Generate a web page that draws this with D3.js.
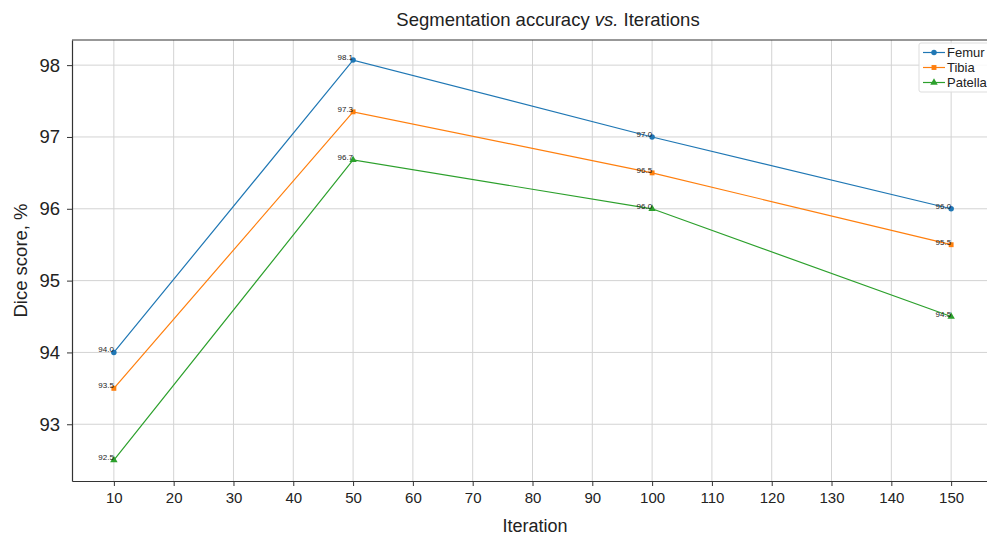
<!DOCTYPE html>
<html lang="en">
<head>
<meta charset="UTF-8">
<title>Segmentation accuracy vs. Iterations</title>
<script src="https://d3js.org/d3.v7.min.js"></script>
<style>
  body { margin: 0; background: #fff; }
  svg { font-family: "Liberation Sans", Arial, sans-serif; }
</style>
</head>
<body>
<script>
// Data
const iterations = [10, 50, 100, 150];
const femur   = [94.0, 98.07, 97.0, 96.0];
const tibia   = [93.5, 97.35, 96.5, 95.5];
const patella = [92.5, 96.68, 96.0, 94.5];
const seriesNames = ["Femur", "Tibia", "Patella"];
const xTicks = d3.range(10, 151, 10);
const yTicks = [93, 94, 95, 96, 97, 98];

const width = 987, height = 535;
const margin = { top: 40, right: -6, bottom: 54, left: 72 };

const svg = d3.select("body").append("svg")
    .attr("width", width)
    .attr("height", height);

const x = d3.scaleLinear().domain([3, 157]).range([margin.left, width - margin.right]);
const y = d3.scaleLinear().domain([92.21, 98.35]).range([height - margin.bottom, margin.top]);

const series = [
    { name: seriesNames[0], values: femur,   color: "#1f77b4", symbol: d3.symbolCircle,   size: 24 },
    { name: seriesNames[1], values: tibia,   color: "#ff7f0e", symbol: d3.symbolSquare,   size: 24 },
    { name: seriesNames[2], values: patella, color: "#2ca02c", symbol: d3.symbolTriangle, size: 24 }
];

// Grid
const grid = svg.append("g");
grid.selectAll(".vg").data(xTicks).enter().append("line")
    .attr("x1", d => x(d)).attr("x2", d => x(d))
    .attr("y1", y.range()[1]).attr("y2", y.range()[0])
    .attr("stroke", "#d3d3d3").attr("stroke-width", 1);
grid.selectAll(".hg").data(yTicks).enter().append("line")
    .attr("x1", x.range()[0]).attr("x2", x.range()[1])
    .attr("y1", d => y(d)).attr("y2", d => y(d))
    .attr("stroke", "#d3d3d3").attr("stroke-width", 1);

// Axes
const xAxis = svg.append("g")
    .attr("transform", "translate(0," + (height - margin.bottom) + ")")
    .call(d3.axisBottom(x).tickValues(xTicks).tickSize(5).tickPadding(6).tickSizeOuter(0));
xAxis.selectAll("text").style("font-size", "15px").attr("fill", "#222");

const yAxis = svg.append("g")
    .attr("transform", "translate(" + margin.left + ",0)")
    .call(d3.axisLeft(y).tickValues(yTicks).tickFormat(d3.format("d")).tickSize(5).tickPadding(7).tickSizeOuter(0));
yAxis.selectAll("text").style("font-size", "18.5px").attr("fill", "#222");

[xAxis, yAxis].forEach(a => {
    a.select(".domain").attr("stroke", "#333").attr("stroke-width", 1.2);
    a.selectAll(".tick line").attr("stroke", "#333");
});

// top spine
svg.append("line")
    .attr("x1", x.range()[0]).attr("x2", x.range()[1])
    .attr("y1", y.range()[1]).attr("y2", y.range()[1])
    .attr("stroke", "#333").attr("stroke-width", 1.2);

// Lines, markers, labels
const line = d3.line().x((d, i) => x(iterations[i])).y(d => y(d));
series.forEach(s => {
    svg.append("path")
        .attr("d", line(s.values))
        .attr("fill", "none")
        .attr("stroke", s.color)
        .attr("stroke-width", 1.2);
    svg.selectAll(null).data(s.values).enter().append("path")
        .attr("d", d3.symbol().type(s.symbol).size(s.size))
        .attr("transform", (d, i) => "translate(" + x(iterations[i]) + "," + y(d) + ")")
        .attr("fill", s.color);
    svg.selectAll(null).data(s.values).enter().append("text")
        .attr("x", (d, i) => x(iterations[i]))
        .attr("y", d => y(d))
        .attr("text-anchor", "end")
        .style("font-size", "8px")
        .attr("fill", "#222")
        .text(d => d3.format(".1f")(d));
});

// Title and axis labels
svg.append("text")
    .attr("x", 548).attr("y", 26)
    .attr("text-anchor", "middle")
    .style("font-size", "18.5px")
    .attr("fill", "#222")
    .html('Segmentation accuracy <tspan font-style="italic">vs.</tspan> Iterations');

svg.append("text")
    .attr("x", 535).attr("y", 532)
    .attr("text-anchor", "middle")
    .style("font-size", "18px")
    .attr("fill", "#222")
    .text("Iteration");

svg.append("text")
    .attr("transform", "translate(27," + ((y.range()[0] + y.range()[1]) / 2) + ") rotate(-90)")
    .attr("text-anchor", "middle")
    .style("font-size", "18.5px")
    .attr("fill", "#222")
    .text("Dice score, %");

// Legend
const legend = svg.append("g").attr("transform", "translate(919,43)");
legend.append("rect")
    .attr("x", 0).attr("y", 0).attr("width", 80).attr("height", 49)
    .attr("rx", 2)
    .attr("fill", "#fff").attr("fill-opacity", 0.85)
    .attr("stroke", "#ddd");
series.forEach((s, i) => {
    const g = legend.append("g").attr("transform", "translate(0," + (9.5 + i * 15) + ")");
    g.append("line").attr("x1", 4).attr("x2", 26).attr("stroke", s.color).attr("stroke-width", 1.2);
    g.append("path").attr("d", d3.symbol().type(s.symbol).size(s.size)).attr("transform", "translate(15,0)").attr("fill", s.color);
    g.append("text").attr("x", 28).attr("y", 4.5).style("font-size", "13px").attr("fill", "#222").text(s.name);
});
</script>
</body>
</html>
